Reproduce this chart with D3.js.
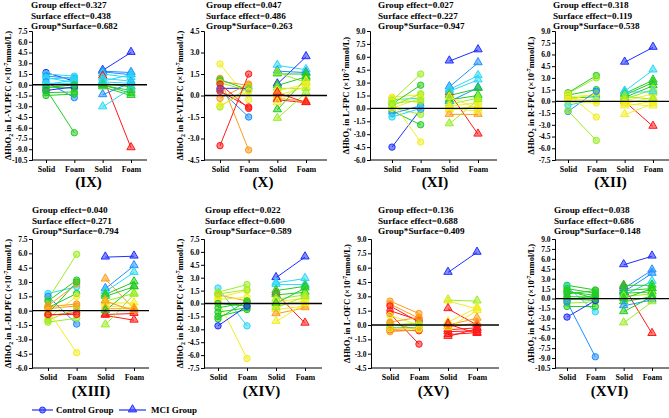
<!DOCTYPE html>
<html><head><meta charset="utf-8">
<script src="https://cdn.jsdelivr.net/npm/d3@7"></script>
<style>
body{margin:0;background:#fff}
svg{display:block}
text{font-family:"Liberation Serif","Times New Roman",serif;font-weight:bold;fill:#000}
</style>
</head><body><svg id="c" width="669" height="418"></svg>
<script>
// ---------- data ----------
const xCategories = ["Solid", "Foam", "Solid", "Foam"];
const panelIds = ["IX", "X", "XI", "XII", "XIII", "XIV", "XV", "XVI"];
const regions = ["L-VLPFC", "R-VLPFC", "L-FPC", "R-FPC", "L-DLPFC", "R-DLPFC", "L-OFC", "R-OFC"];
const groupEffect = ["0.327", "0.047", "0.027", "0.318", "0.040", "0.022", "0.136", "0.038"];
const surfaceEffect = ["0.438", "0.486", "0.227", "0.119", "0.271", "0.600", "0.688", "0.686"];
const interactionEffect = ["0.682", "0.263", "0.947", "0.538", "0.794", "0.589", "0.409", "0.148"];
const yMin = [-10.5, -4.5, -6.0, -7.5, -6.0, -7.5, -4.5, -10.5];
const yMax = [7.5, 4.5, 9.0, 9.0, 7.5, 7.5, 9.0, 9.0];
const legendLabels = ["Control Group", "MCI Group"];
// colour level of each subject line: 0 blue ... 7 red
const colorLevels = ["#1f2fff", "#1e8fff", "#2ad8f5", "#22cc22", "#99ee22", "#f2ee22", "#ff9a1a", "#ff1a1a"];

// each row: [Solid value, Foam value, colour level]
const control_IX = [[1.7,0.5,0],[1.5,1.2,2],[1.2,0.9,1],[1.0,0.3,2],[0.8,1.0,2],[0.4,-1.8,1],[0.0,0.7,2],[-0.3,-0.5,3],[-0.6,-6.7,3],[-0.8,-0.3,0],[-1.1,-1.0,3],[-1.5,-1.3,3],[0.2,0.2,2],[-0.4,0.0,3]];
const mci_IX = [[2.0,4.5,0],[1.9,1.7,1],[1.8,1.4,1],[1.5,1.0,2],[1.2,-8.8,7],[0.9,0.5,2],[0.5,1.4,2],[0.2,-0.3,3],[-0.1,-0.8,3],[-0.3,-1.5,3],[-1.4,0.3,1],[-3.1,-0.5,2],[0.0,-1.2,3],[0.4,0.2,2]];
const control_X = [[2.2,-0.3,5],[1.2,-3.8,6],[1.0,0.7,6],[1.1,0.4,3],[0.9,0.3,4],[0.5,0.5,0],[0.4,-1.5,1],[-0.2,0.8,6],[-0.8,0.6,4],[-3.5,1.5,7],[0.8,-0.9,7],[0.3,-0.8,7],[-0.7,0.3,5]];
const mci_X = [[2.1,1.8,2],[0.8,2.7,0],[1.7,1.6,1],[1.5,1.5,3],[1.6,0.9,4],[0.7,1.3,3],[0.5,0.5,4],[0.3,0.8,5],[0.0,0.6,5],[-0.2,-0.4,6],[-0.3,-0.5,7],[-1.0,1.2,3],[-1.6,0.2,4],[0.2,-0.5,7],[-0.5,1.0,5]];
const control_XI = [[-4.5,-0.1,0],[1.0,1.2,2],[1.2,0.6,5],[1.3,1.6,5],[0.9,4.0,4],[0.5,2.7,3],[0.3,1.7,4],[0.1,-0.7,4],[-0.3,-1.9,3],[-0.6,0.3,1],[-1.0,0.0,2],[0.8,-3.9,5],[0.0,1.2,5],[0.6,0.9,4]];
const mci_XI = [[5.5,6.8,0],[2.5,5.3,1],[1.8,-3.0,7],[2.2,3.8,2],[2.0,3.3,2],[0.8,2.4,1],[1.5,2.3,3],[1.0,1.5,3],[0.5,1.2,4],[0.2,0.7,5],[-0.2,0.3,5],[-0.7,-0.7,6],[-1.8,1.0,4],[0.0,-0.3,5],[1.3,0.0,5]];
const control_XII = [[1.1,3.3,3],[1.0,3.0,4],[0.8,1.5,3],[0.6,0.8,5],[0.4,0.6,3],[0.2,1.0,5],[-0.1,-0.2,5],[-0.5,0.3,2],[-1.3,1.3,1],[-1.2,-5.0,4],[0.9,-2.0,5],[0.3,0.1,5]];
const mci_XII = [[5.0,6.9,0],[1.3,4.0,2],[0.0,-3.2,7],[1.0,2.7,3],[0.8,2.4,3],[0.5,2.0,3],[0.3,1.5,4],[0.0,1.0,5],[-0.3,0.5,5],[-0.6,0.0,5],[-1.7,-0.3,5],[1.2,1.2,2],[-0.3,-0.6,5],[0.6,0.3,4]];
const control_XIII = [[1.8,2.5,2],[1.2,5.9,4],[1.5,-1.4,1],[1.0,3.2,3],[0.5,2.8,6],[0.3,1.8,3],[0.2,0.5,6],[-0.3,3.0,3],[-0.5,-0.2,7],[-0.8,1.5,5],[-1.0,0.2,4],[-1.2,-0.8,4],[0.0,-4.4,5],[0.4,0.7,6],[-0.4,-0.4,7]];
const mci_XIII = [[5.6,5.7,0],[3.3,0.2,6],[2.3,4.7,1],[2.0,4.0,2],[1.7,3.0,3],[1.5,2.5,3],[1.0,1.8,4],[0.8,0.8,5],[0.5,0.3,5],[0.2,0.2,6],[-0.4,-0.3,7],[-0.5,-1.0,7],[-1.5,1.7,4],[0.0,2.5,3],[1.0,0.0,6]];
const control_XIV = [[1.8,-2.6,2],[1.3,2.2,4],[1.0,0.3,6],[0.7,1.5,5],[0.5,0.7,5],[0.3,-6.4,5],[0.0,-0.3,3],[-0.5,0.1,3],[-1.0,-0.5,3],[-1.5,-0.7,3],[-1.8,0.3,3],[-2.6,-0.3,0],[1.1,1.6,4]];
const mci_XIV = [[3.0,5.4,0],[2.4,2.9,2],[2.2,2.2,2],[1.2,-2.3,7],[1.5,2.0,3],[1.0,1.3,3],[0.5,1.0,4],[0.2,0.6,5],[-0.3,0.3,5],[-0.7,-0.3,5],[-1.2,-0.5,6],[-2.1,0.0,5],[0.0,1.8,3],[-0.5,0.8,4]];
const control_XV = [[2.5,1.2,6],[2.2,0.7,6],[2.0,0.3,7],[1.5,0.5,7],[1.2,-2.0,7],[1.0,0.0,5],[0.2,-0.5,6],[0.0,0.2,4],[-0.3,-0.3,3],[-0.5,-0.6,7],[-0.7,-0.5,6],[0.3,0.8,6],[-0.4,-0.4,5]];
const mci_XV = [[5.5,7.6,0],[2.6,2.5,4],[2.5,1.7,5],[1.7,0.0,7],[0.3,1.8,5],[0.0,0.7,6],[-0.2,0.2,6],[-0.5,-0.3,7],[-0.7,-0.6,7],[-1.0,-0.8,7],[-1.2,-0.4,7],[-0.3,1.5,5],[0.1,-0.9,7]];
const control_XVI = [[2.0,1.3,3],[1.8,-2.0,2],[1.5,0.8,3],[1.0,0.5,3],[0.7,1.2,3],[0.3,0.2,3],[0.0,-0.3,3],[-0.3,0.5,3],[-0.7,-0.5,4],[-1.2,-1.2,3],[-0.5,-8.8,1],[-2.8,-0.3,0],[1.2,0.0,3]];
const mci_XVI = [[5.1,6.4,0],[1.8,-5.3,7],[1.5,4.3,1],[1.0,3.8,1],[0.5,2.6,2],[2.0,2.0,3],[1.2,1.5,3],[0.8,1.0,3],[0.3,0.7,4],[-0.5,0.3,3],[-1.1,-0.2,1],[-2.0,0.3,3],[-3.7,-0.5,4],[0.0,1.5,3]];

const controlData = [control_IX, control_X, control_XI, control_XII, control_XIII, control_XIV, control_XV, control_XVI];
const mciData = [mci_IX, mci_X, mci_XI, mci_XII, mci_XIII, mci_XIV, mci_XV, mci_XVI];

// ---------- layout ----------
const axisX  = [32, 204, 370, 555, 32, 204, 371, 555];
const firstX = [46, 220, 392, 568, 48, 218, 390, 567];
const lastX  = [131, 306, 478, 653, 134, 305, 477, 652];
const rightX = [147, 327, 497, 669, 149, 322, 499, 669];
const statX  = [31, 206, 378, 553, 32, 205, 378, 554];
const rowTop = [31, 239];
const rowBottom = [160, 368];

const svg = d3.select("#c");
const fmt = v => (Math.abs(v) < 1e-9 ? 0 : v).toFixed(1);
const triangle = d3.symbol().type(d3.symbolTriangle).size(30);

panelIds.forEach((pid, i) => {
  const row = i < 4 ? 0 : 1;
  const x0 = axisX[i], x1 = rightX[i];
  const top = rowTop[row], bottom = rowBottom[row];
  const x = d3.scaleLinear().domain([1, 4]).range([firstX[i], lastX[i]]);
  const y = d3.scaleLinear().domain([yMin[i], yMax[i]]).range([bottom, top]);
  const g = svg.append("g");

  // stats text
  const statY = row === 0 ? 8 : 213;
  [["Group effect=", groupEffect[i]], ["Surface effect=", surfaceEffect[i]], ["Group*Surface=", interactionEffect[i]]]
    .forEach((s, k) => {
      g.append("text").attr("x", statX[i]).attr("y", statY + k * 10.7)
        .attr("font-size", 9.2).text(s[0] + s[1]);
    });

  // y axis
  const ticks = d3.range(Math.round((yMax[i] - yMin[i]) / 1.5) + 1).map(k => yMin[i] + k * 1.5);
  const ya = g.append("g").attr("transform", `translate(${x0},0)`)
    .call(d3.axisLeft(y).tickValues(ticks).tickFormat(fmt).tickSize(3).tickPadding(1.5));
  ya.select(".domain").attr("stroke", "#000").attr("stroke-width", 1);
  ya.selectAll("text").attr("font-size", 7.5).attr("font-family", '"Liberation Serif",serif').attr("font-weight", "bold");

  // x axis
  g.append("line").attr("x1", x0).attr("x2", x1).attr("y1", bottom).attr("y2", bottom)
    .attr("stroke", "#000").attr("stroke-width", 1);
  const xa = g.append("g").attr("transform", `translate(0,${bottom})`)
    .call(d3.axisBottom(x).tickValues([1, 2, 3, 4]).tickFormat((d, k) => xCategories[k]).tickSize(3).tickPadding(3));
  xa.select(".domain").remove();
  xa.selectAll("text").attr("font-size", 8).attr("font-family", '"Liberation Serif",serif').attr("font-weight", "bold");

  // y label
  const yl = g.append("text")
    .attr("transform", `translate(${x0 - 21},${(top + bottom) / 2}) rotate(-90)`)
    .attr("text-anchor", "middle").attr("font-size", 8.5);
  yl.append("tspan").text("ΔHbO");
  yl.append("tspan").attr("font-size", 5.8).attr("dy", 2).text("2");
  yl.append("tspan").attr("dy", -2).text(" in " + regions[i] + " (×10");
  yl.append("tspan").attr("font-size", 5.8).attr("dy", -3).text("-7");
  yl.append("tspan").attr("dy", 3).text("mmol/L)");

  // lines + markers
  const drawGroup = (data, xs, xf, isTri) => {
    data.forEach(d => {
      const c = colorLevels[d[2]];
      g.append("line").attr("x1", x(xs)).attr("y1", y(d[0])).attr("x2", x(xf)).attr("y2", y(d[1]))
        .attr("stroke", c).attr("stroke-width", 1);
    });
    data.forEach(d => {
      const c = colorLevels[d[2]];
      [[xs, d[0]], [xf, d[1]]].forEach(p => {
        if (isTri) {
          g.append("path").attr("d", triangle).attr("transform", `translate(${x(p[0])},${y(p[1]) - 0.5})`)
            .attr("fill", c).attr("fill-opacity", 0.55).attr("stroke", c).attr("stroke-width", 1);
        } else {
          g.append("circle").attr("cx", x(p[0])).attr("cy", y(p[1])).attr("r", 3.2)
            .attr("fill", c).attr("fill-opacity", 0.55).attr("stroke", c).attr("stroke-width", 1);
        }
      });
    });
  };
  drawGroup(controlData[i], 1, 2, false);
  drawGroup(mciData[i], 3, 4, true);

  // zero line
  g.append("line").attr("x1", x0).attr("x2", x1).attr("y1", y(0)).attr("y2", y(0))
    .attr("stroke", "#000").attr("stroke-width", 1.3);

  // panel id
  g.append("text").attr("x", (firstX[i] + lastX[i]) / 2).attr("y", row === 0 ? 187 : 396)
    .attr("text-anchor", "middle").attr("font-size", 15).text("(" + pid + ")");
});

// legend
const lg = svg.append("g");
lg.append("line").attr("x1", 32).attr("x2", 53).attr("y1", 410).attr("y2", 410).attr("stroke", colorLevels[0]).attr("stroke-width", 1.2);
lg.append("circle").attr("cx", 42.5).attr("cy", 410).attr("r", 3).attr("fill", colorLevels[0]).attr("fill-opacity", 0.55).attr("stroke", colorLevels[0]);
lg.append("text").attr("x", 56).attr("y", 413).attr("font-size", 9).text(legendLabels[0]);
lg.append("line").attr("x1", 119).attr("x2", 146).attr("y1", 410).attr("y2", 410).attr("stroke", colorLevels[0]).attr("stroke-width", 1.2);
lg.append("path").attr("d", triangle).attr("transform", "translate(132.5,409.5)").attr("fill", colorLevels[0]).attr("fill-opacity", 0.55).attr("stroke", colorLevels[0]);
lg.append("text").attr("x", 151).attr("y", 413).attr("font-size", 9).text(legendLabels[1]);
</script>
</body></html>
